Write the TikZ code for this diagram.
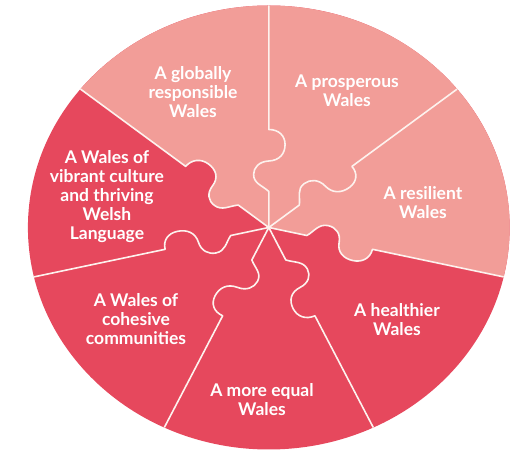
\documentclass[tikz,border=0pt]{standalone}
\usepackage{fontspec}
\setmainfont{Lato}
\definecolor{lightpiece}{RGB}{242,157,152}
\definecolor{darkpiece}{RGB}{230,72,93}
\definecolor{seamwhite}{RGB}{253,242,238}
% one jigsaw seam, outward from the hub and back in
\newcommand\seamout[1]{{[rotate=#1] -- (36,0) .. controls (42,6) and (44,14) .. (53,14) .. controls (60,14) and (66,9) .. (66.5,0) .. controls (67,-10) and (74,-15) .. (83,-15) .. controls (92,-15) and (98,-9) .. (98,0) -- (222,0)}}
\newcommand\seamin[1]{{[rotate=#1] -- (98,0) .. controls (98,-9) and (92,-15) .. (83,-15) .. controls (74,-15) and (67,-10) .. (66.5,0) .. controls (66,9) and (60,14) .. (53,14) .. controls (44,14) and (42,6) .. (36,0) -- (0,0)}}
\tikzset{
  seam/.style={draw=seamwhite, line width=1.6pt, line join=round},
  goaltext/.style={text=white, align=center, font=\fontsize{17.5}{19}\selectfont\bfseries, inner sep=0pt}
}
\begin{document}
\begin{tikzpicture}[x=1pt,y=1pt]
    \useasboundingbox (0,0) rectangle (522,452);
    \begin{scope}[shift={(268.8,224.5)}, xscale=1.085]
      \coordinate (hub) at (0,0);
      \fill[darkpiece] (hub) circle (222pt);
      \fill[lightpiece] (hub) \seamout{-12.857} arc[start angle=-12.857, end angle=141.429, radius=222pt] \seamin{141.429} -- cycle;
      \foreach \a in {0,...,6}
        \draw[seam] (hub) \seamout{90-\a*51.4286};
    \end{scope}

    \node[goaltext] (globally) at (193,360.3) {A globally\\responsible\\Wales};
    \node[goaltext] (prosperous) at (347,360.8) {A prosperous\\Wales};
    \node[goaltext] (resilient) at (423,249.8) {A resilient\\Wales};
    \node[goaltext] (culture) at (107,255.8) {A Wales of\\vibrant culture\\and thriving\\Welsh\\Language};
    \node[goaltext] (cohesive) at (136,132.7) {A Wales of\\cohesive\\communities};
    \node[goaltext] (equal) at (262,52.8) {A more equal\\Wales};
    \node[goaltext] (healthier) at (397,132.3) {A healthier\\Wales};
\end{tikzpicture}
\end{document}
